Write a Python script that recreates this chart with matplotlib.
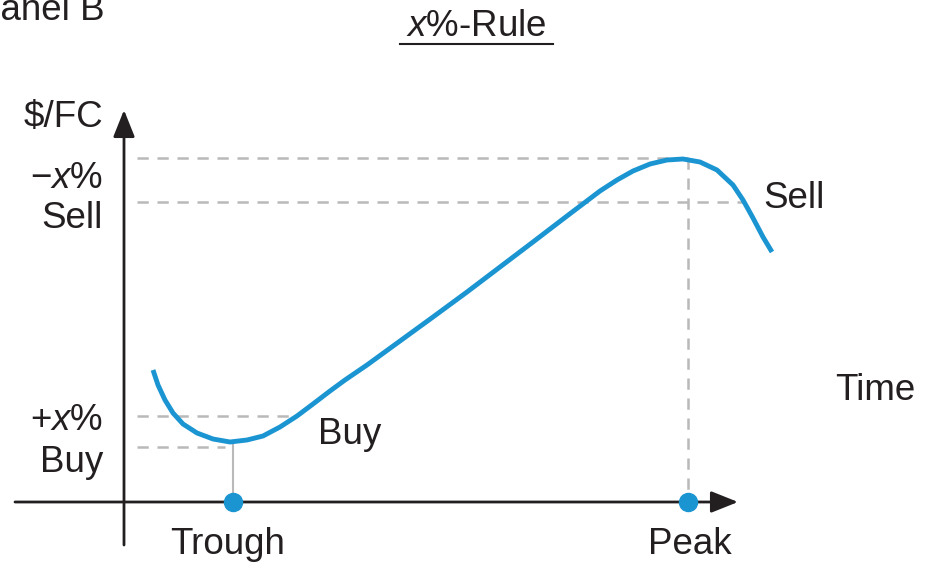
import matplotlib
matplotlib.use("Agg")
import matplotlib.pyplot as plt
from matplotlib.lines import Line2D

plt.rcParams['font.family'] = ['Liberation Sans', 'DejaVu Sans']
plt.rcParams['mathtext.fontset'] = 'custom'
plt.rcParams['mathtext.rm'] = 'Liberation Sans'
plt.rcParams['mathtext.it'] = 'Liberation Sans:italic'

# ---- data (time, exchange rate $/FC) ----
time = [2.9, 3.4, 4.1, 4.9, 5.9, 7.3, 8.9, 10.6, 12.3, 13.9, 15.6, 17.3, 18.9,
        20.6, 22.1, 24.3, 27.6, 30.9, 34.3, 37.6, 40.9, 44.3, 47.6, 49.3, 50.9,
        52.6, 54.3, 55.9, 57.6, 59.3, 60.9, 61.9, 62.9, 63.9, 64.8]
rate = [13.2, 11.7, 10.2, 8.9, 7.8, 6.9, 6.3, 6.0, 6.2, 6.6, 7.5, 8.6, 9.8,
        11.1, 12.2, 13.7, 16.1, 18.5, 21.0, 23.5, 26.0, 28.6, 31.1, 32.2, 33.1,
        33.8, 34.2, 34.3, 34.0, 33.2, 31.7, 30.2, 28.4, 26.5, 25.0]

trough_time = 10.9
peak_time = 56.4
trough_level = 6.0
trough_ref = 5.5       # lower dashed line (trough)
buy_level = 8.6        # +x% above trough
peak_level = 34.4
sell_level = 30.0      # -x% below peak
buy_cross = 17.2       # where curve crosses buy level
sell_cross = 62.0      # where curve crosses sell level

BLUE = '#1b95d2'
GRAY = '#b9b9b9'
BLACK = '#231f20'

fig = plt.figure(figsize=(9.26, 5.69), dpi=100)
ax = fig.add_axes([0, 0, 1, 1])
ax.set_xlim(-12.4, 80.2)
ax.set_ylim(-6.7, 50.2)
ax.axis('off')

FS = 26.5

# axes with arrows
ax.annotate('', xy=(0, 39.2), xytext=(0, -4.3),
            arrowprops=dict(arrowstyle='-|>,head_length=0.55,head_width=0.22',
                            mutation_scale=30, lw=2, color=BLACK,
                            shrinkA=0, shrinkB=0))
ax.annotate('', xy=(61.4, 0), xytext=(-10.9, 0),
            arrowprops=dict(arrowstyle='-|>,head_length=0.55,head_width=0.22',
                            mutation_scale=30, lw=2, color=BLACK,
                            shrinkA=0, shrinkB=0))

# dashed reference lines
dash = dict(color=GRAY, lw=1.8, ls=(0, (4.5, 3.5)))
ax.plot([1.3, peak_time], [peak_level, peak_level], **dash)
ax.plot([1.3, sell_cross], [sell_level, sell_level], **dash)
ax.plot([1.3, buy_cross], [buy_level, buy_level], **dash)
ax.plot([1.3, trough_time - 0.8], [trough_ref, trough_ref], **dash)
ax.plot([peak_time, peak_time], [peak_level, 0], **dash)
ax.plot([trough_time, trough_time], [trough_level, 0], color=GRAY, lw=1.5)

# curve
ax.plot(time, rate, color=BLUE, lw=3.5, solid_capstyle='butt',
        solid_joinstyle='round', zorder=3)

# dots
ax.plot([trough_time, peak_time], [0, 0], 'o', color=BLUE, ms=13, zorder=4)

# labels
ax.text(-2.1, 38.5, '$/FC', fontsize=FS, ha='right', va='center', color=BLACK)
ax.text(-2.1, 32.4, '\u2212$\\mathit{x}$%', fontsize=FS, ha='right', va='center', color=BLACK)
ax.text(-2.1, 28.4, 'Sell', fontsize=FS, ha='right', va='center', color=BLACK)
ax.text(-2.1, 8.2, '+$\\mathit{x}$%', fontsize=FS, ha='right', va='center', color=BLACK)
ax.text(-2.1, 4.0, 'Buy', fontsize=FS, ha='right', va='center', color=BLACK)
ax.text(19.4, 6.7, 'Buy', fontsize=FS, ha='left', va='center', color=BLACK)
ax.text(63.9, 30.4, 'Sell', fontsize=FS, ha='left', va='center', color=BLACK)
ax.text(71.1, 11.2, 'Time', fontsize=FS, ha='left', va='center', color=BLACK)
ax.text(10.4, -4.3, 'Trough', fontsize=FS, ha='center', va='center', color=BLACK)
ax.text(56.6, -4.3, 'Peak', fontsize=FS, ha='center', va='center', color=BLACK)

# title and panel label
fig.text(476 / 926, 1 - 26 / 569, '$\\mathit{x}$%-Rule', fontsize=FS,
         ha='center', va='center', color=BLACK)
fig.add_artist(Line2D([400 / 926, 553 / 926], [1 - 44 / 569, 1 - 44 / 569],
                      color=BLACK, lw=1.5, transform=fig.transFigure))
fig.text(-24 / 926, 1 - 10 / 569, 'Panel B', fontsize=FS, ha='left',
         va='center', color=BLACK)

fig.savefig('out.png', dpi=100)
